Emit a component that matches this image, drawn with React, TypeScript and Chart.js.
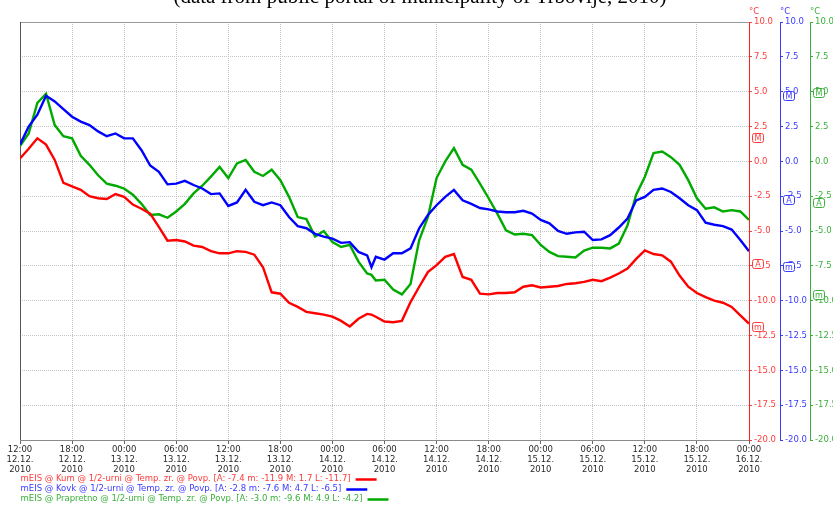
import React, { useEffect, useRef } from "react";
import { Chart, registerables } from "chart.js";

Chart.register(...registerables);

// ---- data ----
const hours = [
  0, 1, 2, 3, 4, 5, 6, 7, 8, 9, 10, 11, 12, 13, 14, 15, 16, 17, 18, 19, 20,
  21, 22, 23, 24, 25, 26, 27, 28, 29, 30, 31, 32, 33, 34, 35, 36, 37, 38, 39,
  40, 40.5, 41, 42, 43, 44, 45, 46, 47, 48, 49, 50, 51, 52, 53, 54, 55, 56, 57,
  58, 59, 60, 61, 62, 63, 64, 65, 66, 67, 68, 69, 70, 71, 72, 73, 74, 75, 76,
  77, 78, 79, 80, 81, 82, 83, 84,
];

const kum = [
  0.2, 0.9, 1.65, 1.2, 0.1, -1.55, -1.8, -2.05, -2.5, -2.65, -2.7, -2.35,
  -2.55, -3.1, -3.4, -3.75, -4.7, -5.7, -5.65, -5.75, -6.05, -6.15, -6.45,
  -6.6, -6.6, -6.45, -6.5, -6.7, -7.6, -9.4, -9.5, -10.15, -10.45, -10.8,
  -10.9, -11.0, -11.15, -11.45, -11.85, -11.3, -10.95, -11.0, -11.15, -11.5,
  -11.55, -11.45, -10.1, -9.0, -7.95, -7.45, -6.85, -6.65, -8.3, -8.5, -9.5,
  -9.55, -9.45, -9.45, -9.4, -9.0, -8.9, -9.05, -9.0, -8.95, -8.8, -8.75,
  -8.65, -8.5, -8.6, -8.35, -8.05, -7.7, -7.0, -6.4, -6.65, -6.75, -7.2, -8.2,
  -9.0, -9.45, -9.75, -10.0, -10.15, -10.45, -11.05, -11.65,
];

const kovk = [
  1.2, 2.5, 3.35, 4.7, 4.3, 3.75, 3.2, 2.85, 2.6, 2.15, 1.8, 2.0, 1.65, 1.65,
  0.8, -0.3, -0.75, -1.65, -1.6, -1.4, -1.7, -1.95, -2.35, -2.3, -3.2, -2.95,
  -2.05, -2.9, -3.15, -2.95, -3.15, -4.0, -4.65, -4.8, -5.2, -5.4, -5.55,
  -5.85, -5.8, -6.5, -6.75, -7.6, -6.85, -7.05, -6.6, -6.6, -6.25, -4.8,
  -3.85, -3.15, -2.55, -2.05, -2.8, -3.05, -3.35, -3.45, -3.6, -3.65, -3.65,
  -3.55, -3.75, -4.2, -4.45, -5.0, -5.2, -5.1, -5.05, -5.65, -5.6, -5.3,
  -4.75, -4.1, -2.8, -2.55, -2.05, -1.95, -2.2, -2.65, -3.15, -3.5, -4.4,
  -4.55, -4.65, -4.9, -5.65, -6.45,
];

const prapretno = [
  1.1, 2.0, 4.2, 4.85, 2.6, 1.8, 1.65, 0.4, -0.25, -1.0, -1.6, -1.75, -1.95,
  -2.4, -3.05, -3.85, -3.8, -4.05, -3.6, -3.05, -2.3, -1.75, -1.1, -0.4, -1.2,
  -0.15, 0.1, -0.75, -1.05, -0.6, -1.35, -2.55, -4.0, -4.15, -5.4, -5.0, -5.8,
  -6.15, -6.0, -7.2, -8.05, -8.15, -8.55, -8.5, -9.2, -9.55, -8.8, -5.65,
  -4.0, -1.2, 0.0, 0.95, -0.25, -0.6, -1.6, -2.65, -3.75, -4.95, -5.25, -5.2,
  -5.3, -6.0, -6.5, -6.8, -6.85, -6.9, -6.4, -6.2, -6.2, -6.25, -5.9, -4.6,
  -2.4, -1.1, 0.6, 0.7, 0.3, -0.25, -1.35, -2.65, -3.4, -3.3, -3.6, -3.5,
  -3.6, -4.2,
];

// stats: A (average), m (min), M (max), L (last)
const statsKum = [-7.4, -11.9, 1.7, -11.7];
const statsKovk = [-2.8, -7.6, 4.7, -6.5];
const statsPrapretno = [-3.0, -9.6, 4.9, -4.2];

const seriesNames = [
  "mEIS @ Kum @ 1/2-urni @ Temp. zr. @ Povp.",
  "mEIS @ Kovk @ 1/2-urni @ Temp. zr. @ Povp.",
  "mEIS @ Prapretno @ 1/2-urni @ Temp. zr. @ Povp.",
];

const tickHours = [0, 6, 12, 18, 24, 30, 36, 42, 48, 54, 60, 66, 72, 78, 84];
const tickTimes = [
  "12:00", "18:00", "00:00", "06:00", "12:00", "18:00", "00:00", "06:00",
  "12:00", "18:00", "00:00", "06:00", "12:00", "18:00", "00:00",
];
const tickDates = [
  "12.12.", "12.12.", "13.12.", "13.12.", "13.12.", "13.12.", "14.12.",
  "14.12.", "14.12.", "14.12.", "15.12.", "15.12.", "15.12.", "15.12.",
  "16.12.",
];
const tickYears = [
  "2010", "2010", "2010", "2010", "2010", "2010", "2010", "2010", "2010",
  "2010", "2010", "2010", "2010", "2010", "2010",
];

const yUnit = "°C";
const titleText = "(data from public portal of municipality of Trbovlje, 2010)";

// ---- styles ----
const lineColors = ["#ff0000", "#0000ff", "#00aa00"];
const textColors = ["#ff3b3b", "#3b3bff", "#3bb03b"];
const axisIds = ["yKum", "yKovk", "yPrap"];
const FONT_FAMILY = "'DejaVu Sans', Verdana, sans-serif";
const FS = 8.5;

const fmt = (v: number) => v.toFixed(1);

const decorPlugin = {
  id: "decor",
  beforeDatasetsDraw(chart: any) {
    const { ctx, chartArea } = chart;
    const { left, top, right, bottom } = chartArea;
    ctx.save();
    ctx.lineWidth = 1;
    ctx.setLineDash([]);
    ctx.strokeStyle = "#9a9a9a";
    ctx.beginPath();
    ctx.moveTo(left, Math.round(top) + 0.5);
    ctx.lineTo(right, Math.round(top) + 0.5);
    ctx.stroke();
    ctx.strokeStyle = "#555555";
    ctx.beginPath();
    ctx.moveTo(Math.round(left) + 0.5, top);
    ctx.lineTo(Math.round(left) + 0.5, bottom);
    ctx.stroke();
    ctx.restore();
  },
  afterDraw(chart: any) {
    const { ctx } = chart;
    ctx.save();
    // title (cut off at the top)
    ctx.font = "21px 'Liberation Serif', 'Times New Roman', serif";
    ctx.fillStyle = "#000";
    ctx.textAlign = "center";
    ctx.textBaseline = "alphabetic";
    ctx.fillText(titleText, 420, 3);

    const allStats = [statsKum, statsKovk, statsPrapretno];
    // units + markers
    axisIds.forEach((id, i) => {
      const sc = chart.scales[id];
      ctx.font = FS + "px " + FONT_FAMILY;
      ctx.fillStyle = textColors[i];
      ctx.textAlign = "left";
      ctx.textBaseline = "middle";
      ctx.fillText(yUnit, Math.round(sc.left), 12);

      const st = allStats[i];
      const marks: [string, number][] = [
        ["A", st[0]],
        ["m", st[1]],
        ["M", st[2]],
      ];
      marks.forEach(([letter, v]) => {
        const y = Math.round(sc.getPixelForValue(v));
        const x = Math.round(sc.left) + 3;
        const w = 11;
        const h = 9;
        ctx.beginPath();
        ctx.roundRect(x + 0.5, y - 4.5, w, h, 2);
        ctx.fillStyle = "#ffffff";
        ctx.fill();
        ctx.strokeStyle = textColors[i];
        ctx.lineWidth = 1;
        ctx.stroke();
        ctx.fillStyle = textColors[i];
        ctx.textAlign = "center";
        ctx.textBaseline = "middle";
        ctx.font = "8px " + FONT_FAMILY;
        ctx.fillText(letter, x + 0.5 + w / 2, y + 0.5);
      });
    });

    // legend
    const legendY = [479, 489, 499];
    seriesNames.forEach((name, i) => {
      const st = allStats[i];
      const text = `${name} [A: ${fmt(st[0])} m: ${fmt(st[1])} M: ${fmt(st[2])} L: ${fmt(st[3])}]`;
      ctx.font = FS + "px " + FONT_FAMILY;
      ctx.fillStyle = textColors[i];
      ctx.textAlign = "left";
      ctx.textBaseline = "middle";
      const x0 = 20.5;
      ctx.fillText(text, x0, legendY[i]);
      const w = ctx.measureText(text).width;
      ctx.strokeStyle = lineColors[i];
      ctx.lineWidth = 2.5;
      ctx.beginPath();
      ctx.moveTo(x0 + w + 5, legendY[i] + 0.5);
      ctx.lineTo(x0 + w + 26, legendY[i] + 0.5);
      ctx.stroke();
    });
    ctx.restore();
  },
};

function yAxis(i: number, width: number, onChart: boolean) {
  return {
    type: "linear" as const,
    position: "right" as const,
    min: -20,
    max: 10,
    afterBuildTicks: (s: any) => {
      const t = [];
      for (let k = 0; k <= 12; k++) t.push({ value: -20 + k * 2.5 });
      s.ticks = t;
    },
    afterFit: (s: any) => {
      s.width = width;
    },
    ticks: {
      color: textColors[i],
      padding: 2,
      font: { family: FONT_FAMILY, size: FS },
      callback: (v: any) => Number(v).toFixed(1),
    },
    grid: {
      drawOnChartArea: onChart,
      color: "#c4c4c4",
      tickColor: textColors[i],
      tickLength: 3,
      tickWidth: 1,
      lineWidth: 1,
    },
    border: {
      display: true,
      color: i === 0 ? "#ff2020" : textColors[i],
      width: 1,
      dash: [1, 1],
    },
  };
}

export default function App() {
  const ref = useRef<HTMLCanvasElement>(null);

  useEffect(() => {
    if (!ref.current) return;
    const mk = (vals: number[]) => hours.map((h, k) => ({ x: h, y: vals[k] }));
    const chart = new Chart(ref.current, {
      type: "line",
      data: {
        datasets: [
          { label: seriesNames[0], data: mk(kum), yAxisID: "yKum" },
          { label: seriesNames[1], data: mk(kovk), yAxisID: "yKovk" },
          { label: seriesNames[2], data: mk(prapretno), yAxisID: "yPrap" },
        ].map((d, i) => ({
          ...d,
          borderColor: lineColors[i],
          backgroundColor: lineColors[i],
          borderWidth: 2.4,
          pointRadius: 0,
          tension: 0,
          fill: false,
        })),
      },
      options: {
        animation: false,
        responsive: false,
        events: [],
        layout: { padding: { left: 20, top: 22, right: 0, bottom: 32 } },
        plugins: {
          legend: { display: false },
          tooltip: { enabled: false },
          title: { display: false },
        },
        scales: {
          x: {
            type: "linear",
            position: "bottom",
            min: 0,
            max: 84,
            afterBuildTicks: (s: any) => {
              s.ticks = tickHours.map((v) => ({ value: v }));
            },
            afterFit: (s: any) => {
              s.height = 35;
            },
            ticks: {
              autoSkip: false,
              maxRotation: 0,
              padding: 1,
              color: "#2a2a2a",
              font: { family: FONT_FAMILY, size: FS, lineHeight: 10 / FS },
              callback: (v: any) => {
                const i = tickHours.indexOf(Number(v));
                return i < 0 ? "" : [tickTimes[i], tickDates[i], tickYears[i]];
              },
            },
            grid: {
              color: "#c4c4c4",
              tickColor: "#666666",
              tickLength: 4,
              lineWidth: 1,
            },
            border: { display: true, color: "#8a8a8a", width: 1, dash: [1, 1] },
          },
          yKum: yAxis(0, 31, true),
          yKovk: yAxis(1, 30, false),
          yPrap: yAxis(2, 23, false),
        },
      } as any,
      plugins: [decorPlugin],
    });
    return () => chart.destroy();
  }, []);

  return (
    <div
      style={{
        position: "absolute",
        left: 0,
        top: 0,
        width: 833,
        height: 507,
        background: "#ffffff",
        overflow: "hidden",
      }}
    >
      <canvas ref={ref} width={833} height={507} style={{ display: "block" }} />
    </div>
  );
}
